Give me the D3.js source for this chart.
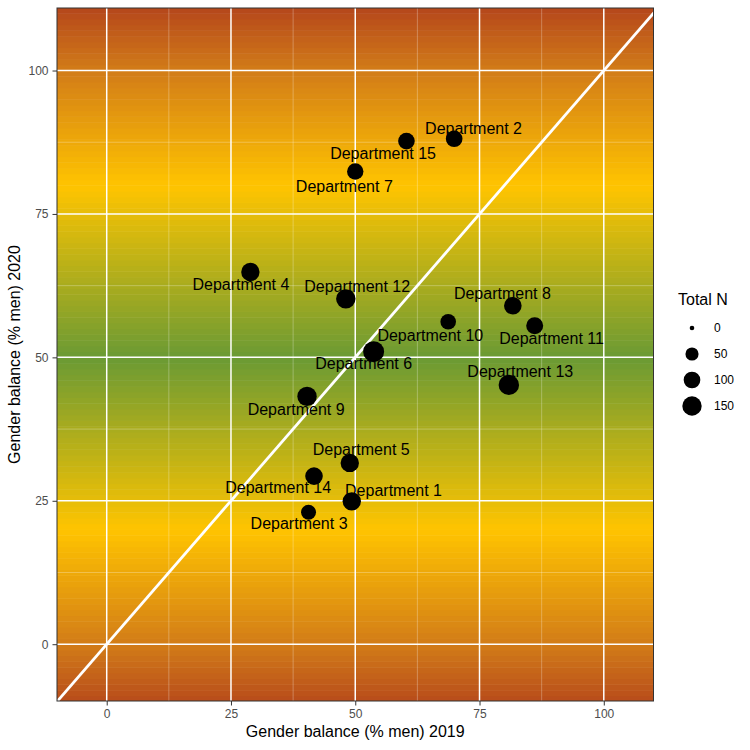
<!DOCTYPE html>
<html>
<head>
<meta charset="utf-8">
<script src="https://cdn.jsdelivr.net/npm/d3@7"></script>
<style>
  body { margin: 0; background: #fff; }
  text { font-family: "Liberation Sans", Arial, Helvetica, sans-serif; }
</style>
</head>
<body>
<div id="chart"></div>
<script>
const departments = ['Department 1', 'Department 2', 'Department 3', 'Department 4', 'Department 5',
  'Department 6', 'Department 7', 'Department 8', 'Department 9', 'Department 10',
  'Department 11', 'Department 12', 'Department 13', 'Department 14', 'Department 15'];
const men2019 = [49.3, 69.9, 40.6, 28.9, 48.9, 53.7, 50.0, 81.7, 40.3, 68.7, 86.1, 48.1, 80.9, 41.7, 60.3];
const men2020 = [24.9, 88.1, 23.0, 64.9, 31.6, 51.0, 82.4, 59.0, 43.2, 56.2, 55.5, 60.2, 45.2, 29.3, 87.7];
const totalN = [130, 99, 74, 130, 130, 184, 95, 116, 150, 83, 105, 150, 171, 116, 99];
// repelled label positions (data units)
const labelX = [57.7, 73.8, 38.7, 27.0, 51.2, 51.7, 47.8, 79.6, 38.1, 65.1, 89.5, 50.4, 83.2, 34.5, 55.6];
const labelY = [26.9, 90.0, 21.0, 62.8, 33.9, 48.9, 79.9, 61.1, 40.9, 53.9, 53.4, 62.4, 47.5, 27.3, 85.5];

const majorTicks = [0, 25, 50, 75, 100];
const minorTicks = [12.5, 37.5, 62.5, 87.5];
const legendN = [0, 50, 100, 150];

// background: distance from 50 -> colour
const bgDist = [0, 30, 50, 61];
const bgColors = ['#6b9a34', '#ffc400', '#d27c18', '#b5471b'];

const margin = { top: 8, right: 96.5, bottom: 49, left: 57 },
      width = 750 - margin.left - margin.right,
      height = 750 - margin.top - margin.bottom;

const xScale = d3.scaleLinear().domain([-10, 110]).range([0, width]);
const yScale = d3.scaleLinear().domain([-9.9, 110.9]).range([height, 0]);
const rScale = d3.scalePow().exponent(0.5).domain([0, 150]).range([2.3, 9.7]);
const bgScale = d3.scaleLinear().domain(bgDist).range(bgColors).clamp(true);

const svg = d3.select('#chart').append('svg')
    .attr('width', 750)
    .attr('height', 750);

svg.append('defs').append('clipPath').attr('id', 'panel-clip')
  .append('rect').attr('width', width).attr('height', height);

const wrapper = svg.append('g')
    .attr('transform', 'translate(' + margin.left + ',' + margin.top + ')');

const panel = wrapper.append('g').attr('clip-path', 'url(#panel-clip)');

// gradient tiles, one per unit of y
const bgRows = d3.range(-10, 111, 1);
panel.append('g').selectAll('rect')
    .data(bgRows)
  .enter().append('rect')
    .attr('x', 0)
    .attr('width', width)
    .attr('y', d => yScale(d + 1))
    .attr('height', d => yScale(d) - yScale(d + 1) + 0.5)
    .style('fill', d => bgScale(Math.abs(d + 0.5 - 50)));

// grid
const grid = panel.append('g');
grid.selectAll('.minor-x').data(minorTicks).enter().append('line')
    .attr('x1', d => xScale(d)).attr('x2', d => xScale(d))
    .attr('y1', 0).attr('y2', height)
    .style('stroke', '#fff').style('stroke-width', 0.8).style('opacity', 0.35);
grid.selectAll('.minor-y').data(minorTicks).enter().append('line')
    .attr('y1', d => yScale(d)).attr('y2', d => yScale(d))
    .attr('x1', 0).attr('x2', width)
    .style('stroke', '#fff').style('stroke-width', 0.8).style('opacity', 0.35);
grid.selectAll('.major-x').data(majorTicks).enter().append('line')
    .attr('x1', d => xScale(d)).attr('x2', d => xScale(d))
    .attr('y1', 0).attr('y2', height)
    .style('stroke', '#fff').style('stroke-width', 1.5);
grid.selectAll('.major-y').data(majorTicks).enter().append('line')
    .attr('y1', d => yScale(d)).attr('y2', d => yScale(d))
    .attr('x1', 0).attr('x2', width)
    .style('stroke', '#fff').style('stroke-width', 1.5);

// y = x reference line
panel.append('path')
    .datum([-20, 130])
    .attr('d', d3.line().x(d => xScale(d)).y(d => yScale(d)))
    .style('stroke', '#fff')
    .style('stroke-width', 2.8)
    .style('fill', 'none');

const data = departments.map((name, i) => ({
  name: name, x: men2019[i], y: men2020[i], n: totalN[i], lx: labelX[i], ly: labelY[i]
}));

panel.append('g').selectAll('circle')
    .data(data)
  .enter().append('circle')
    .attr('cx', d => xScale(d.x))
    .attr('cy', d => yScale(d.y))
    .attr('r', d => rScale(d.n))
    .style('fill', '#000');

panel.append('g').selectAll('text')
    .data(data)
  .enter().append('text')
    .attr('x', d => xScale(d.lx))
    .attr('y', d => yScale(d.ly))
    .attr('dy', '0.36em')
    .attr('text-anchor', 'middle')
    .style('font-size', '16px')
    .style('fill', '#000')
    .text(d => d.name);

// panel border
wrapper.append('rect')
    .attr('width', width).attr('height', height)
    .style('fill', 'none').style('stroke', '#333').style('stroke-width', 1);

// axes
const xAxis = wrapper.append('g')
    .attr('transform', 'translate(0,' + height + ')')
    .call(d3.axisBottom(xScale).tickValues(majorTicks).tickSize(4.5).tickPadding(4));
const yAxis = wrapper.append('g')
    .call(d3.axisLeft(yScale).tickValues(majorTicks).tickSize(4.5).tickPadding(4));
[xAxis, yAxis].forEach(ax => {
  ax.select('.domain').remove();
  ax.selectAll('line').style('stroke', '#333').style('stroke-width', 1);
  ax.selectAll('text').style('font-size', '12px').style('fill', '#4d4d4d')
    .style('font-family', '"Liberation Sans", Arial, sans-serif');
});

svg.append('text')
    .attr('x', margin.left + width / 2)
    .attr('y', 737)
    .attr('text-anchor', 'middle')
    .style('font-size', '16px')
    .text('Gender balance (% men) 2019');

svg.append('text')
    .attr('transform', 'translate(20,' + (margin.top + height / 2) + ') rotate(-90)')
    .attr('text-anchor', 'middle')
    .style('font-size', '16px')
    .text('Gender balance (% men) 2020');

// legend
const legend = svg.append('g').attr('transform', 'translate(678,0)');
legend.append('text')
    .attr('x', 0).attr('y', 305)
    .style('font-size', '16px')
    .text('Total N');
const keys = legend.selectAll('g.key')
    .data(legendN)
  .enter().append('g')
    .attr('class', 'key')
    .attr('transform', (d, i) => 'translate(14,' + (328 + i * 26) + ')');
keys.append('circle')
    .attr('r', d => rScale(d))
    .style('fill', '#000');
keys.append('text')
    .attr('x', 22)
    .attr('dy', '0.36em')
    .style('font-size', '12px')
    .style('fill', '#000')
    .text(d => d);
</script>
</body>
</html>
